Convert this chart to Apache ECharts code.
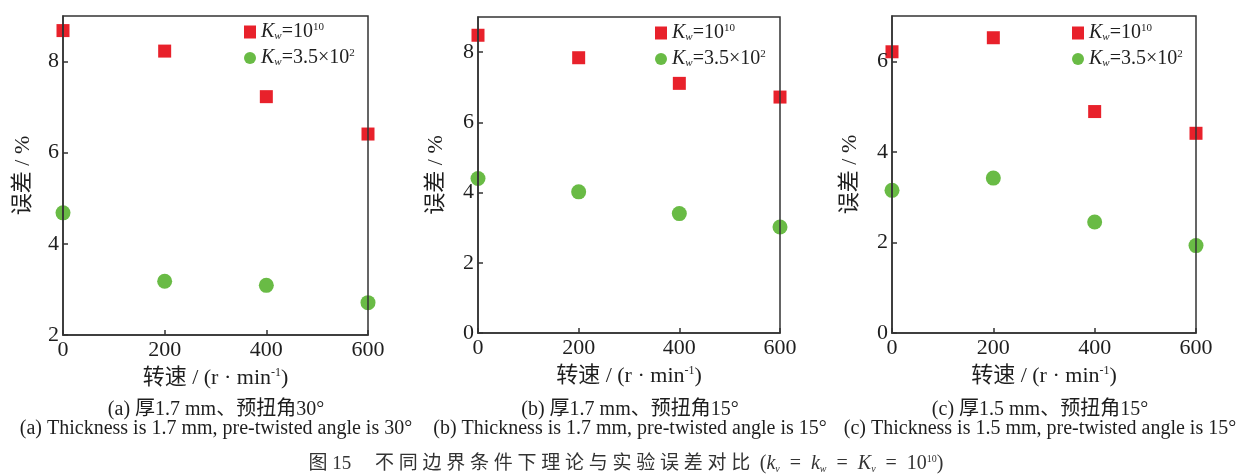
<!DOCTYPE html>
<html>
<head>
<meta charset="utf-8">
<script src="https://cdn.jsdelivr.net/npm/echarts@6/dist/echarts.min.js"></script>
<style>
html,body{margin:0;padding:0;background:#fff;}
#chart{width:1240px;height:475px;}
</style>
</head>
<body>
<div id="chart"></div>
<script>
// ---- data ----
const speeds = [0, 200, 400, 600];
const xTicks = [0, 200, 400, 600];
const seriesNames = ['K_w=10^10', 'K_w=3.5×10^2'];
const errA_high = [8.68, 8.23, 7.23, 6.41];
const errA_low  = [4.68, 3.18, 3.09, 2.71];
const errB_high = [8.48, 7.84, 7.11, 6.72];
const errB_low  = [4.40, 4.02, 3.40, 3.02];
const errC_high = [6.21, 6.52, 4.89, 4.41];
const errC_low  = [3.15, 3.42, 2.45, 1.93];
const yRangeA = [2, 9];
const yRangeB = [0, 9];
const yRangeC = [0, 7];
const captionsCn = ['(a) 厚1.7 mm、预扭角30°', '(b) 厚1.7 mm、预扭角15°', '(c) 厚1.5 mm、预扭角15°'];
const captionsEn = ['(a) Thickness is 1.7 mm, pre-twisted angle is 30°', '(b) Thickness is 1.7 mm, pre-twisted angle is 15°', '(c) Thickness is 1.5 mm, pre-twisted angle is 15°'];
const xAxisName = '转速 / (r · min';
const yAxisName = '误差 / %';
const figTitleHead = '图 15';
const figTitleBody = '不同边界条件下理论与实验误差对比';

// ---- styling ----
const FONT = '"Liberation Serif", "Noto Sans CJK SC", serif';
const RED = '#e8212b';
const GREEN = '#69bb45';
const AX = '#333333';
const TXT = '#1e1e1e';

const panels = [
  {high: errA_high, low: errA_low, yr: yRangeA, grid: {left: 63, top: 16, width: 305, height: 319}, legend: {left: 244, top: 22}, nameGapY: 29},
  {high: errB_high, low: errB_low, yr: yRangeB, grid: {left: 478, top: 17, width: 302, height: 316}, legend: {left: 655, top: 23}, nameGapY: 31},
  {high: errC_high, low: errC_low, yr: yRangeC, grid: {left: 892, top: 16, width: 304, height: 317}, legend: {left: 1072, top: 23}, nameGapY: 31}
];
const capCenters = [216, 630, 1040];

const legendRich = {
  i: {fontFamily: FONT, fontStyle: 'italic', fontSize: 20, color: TXT, lineHeight: 20},
  n: {fontFamily: FONT, fontSize: 20, color: TXT, lineHeight: 20},
  sub: {fontFamily: FONT, fontStyle: 'italic', fontSize: 11, color: TXT, lineHeight: 9, verticalAlign: 'bottom'},
  sup: {fontFamily: FONT, fontSize: 11, color: TXT, lineHeight: 9, verticalAlign: 'top'}
};
function legendFmt(name) {
  if (name === seriesNames[0]) return '{i|K}{sub|w}{n|=10}{sup|10}';
  return '{i|K}{sub|w}{n|=3.5×10}{sup|2}';
}

const option = {
  backgroundColor: '#fff',
  animation: false,
  textStyle: {fontFamily: FONT},
  grid: [], xAxis: [], yAxis: [], series: [], legend: [], title: []
};

panels.forEach((p, k) => {
  option.grid.push(Object.assign({show: true, borderColor: AX, borderWidth: 1.5, z: 10, backgroundColor: 'transparent'}, p.grid));
  option.xAxis.push({
    type: 'value', gridIndex: k, min: 0, max: 600, interval: 200, z: 10,
    axisLine: {show: true, lineStyle: {color: AX, width: 1.5}},
    axisTick: {show: true, inside: true, length: 5, lineStyle: {color: AX, width: 1.5}},
    splitLine: {show: false},
    axisLabel: {color: TXT, fontFamily: FONT, fontSize: 22, margin: 4},
    name: '{t|' + xAxisName + '}{s|-1}{t|)}', nameLocation: 'middle', nameGap: 32,
    nameTextStyle: {rich: {
      t: {fontFamily: FONT, fontSize: 22, color: TXT, lineHeight: 22},
      s: {fontFamily: FONT, fontSize: 12, color: TXT, lineHeight: 11, verticalAlign: 'top'}
    }}
  });
  option.yAxis.push({
    type: 'value', gridIndex: k, min: p.yr[0], max: p.yr[1], interval: 2, z: 10,
    axisLine: {show: true, lineStyle: {color: AX, width: 1.5}},
    axisTick: {show: true, inside: true, length: 5, lineStyle: {color: AX, width: 1.5}},
    splitLine: {show: false},
    axisLabel: {color: TXT, fontFamily: FONT, fontSize: 22, margin: 4, showMaxLabel: false},
    name: yAxisName, nameLocation: 'middle', nameRotate: 90, nameGap: p.nameGapY,
    nameTextStyle: {fontFamily: FONT, fontSize: 22, color: TXT}
  });
  option.series.push({
    name: seriesNames[0], type: 'scatter', xAxisIndex: k, yAxisIndex: k,
    symbol: 'rect', symbolSize: 13, itemStyle: {color: RED, opacity: 1},
    data: speeds.map((s, j) => [s, p.high[j]])
  });
  option.series.push({
    name: seriesNames[1], type: 'scatter', xAxisIndex: k, yAxisIndex: k,
    symbol: 'circle', symbolSize: 15, itemStyle: {color: GREEN, opacity: 1},
    data: speeds.map((s, j) => [s, p.low[j]])
  });
  option.legend.push({
    orient: 'vertical', left: p.legend.left, top: p.legend.top,
    itemWidth: 12, itemHeight: 13, itemGap: 6, padding: 0,
    selectedMode: false,
    data: [{name: seriesNames[0], icon: 'rect', itemStyle: {opacity: 1}}, {name: seriesNames[1], icon: 'circle', itemStyle: {opacity: 1}}],
    formatter: legendFmt,
    textStyle: {rich: legendRich}
  });
  option.title.push({
    text: captionsCn[k], left: capCenters[k], top: 400, textAlign: 'center', padding: 0,
    textStyle: {fontFamily: FONT, fontSize: 20, fontWeight: 'normal', color: TXT, lineHeight: 20}
  });
  option.title.push({
    text: captionsEn[k], left: capCenters[k], top: 419, textAlign: 'center', padding: 0,
    textStyle: {fontFamily: FONT, fontSize: 20, fontWeight: 'normal', color: TXT, lineHeight: 20}
  });
});

const spacedBody = figTitleBody.split('').join(' ');
const EQ = '\u2002=\u2002';
option.title.push({
  text: '{c|' + figTitleHead + '\u3000 ' + spacedBody + '\u2002}{p|(}{i|k}{sb|v}{p|' + EQ + '}{i|k}{sb|w}{p|' + EQ + '}{i|K}{sb|v}{p|' + EQ + '10}{sp|10}{p|)}',
  left: 626, top: 454, textAlign: 'center', padding: 0,
  textStyle: {fontWeight: 'normal', rich: {
    c: {fontFamily: FONT, fontSize: 19, fontWeight: 'normal', color: '#333', lineHeight: 20},
    p: {fontFamily: FONT, fontSize: 20, fontWeight: 'normal', color: '#333', lineHeight: 20},
    i: {fontFamily: FONT, fontStyle: 'italic', fontSize: 20, fontWeight: 'normal', color: '#333', lineHeight: 20},
    sb: {fontFamily: FONT, fontStyle: 'italic', fontSize: 10, fontWeight: 'normal', color: '#333', lineHeight: 8, verticalAlign: 'bottom'},
    sp: {fontFamily: FONT, fontSize: 10, fontWeight: 'normal', color: '#333', lineHeight: 8, verticalAlign: 'top'}
  }}
});

const chart = echarts.init(document.getElementById('chart'), null, {renderer: 'canvas'});
chart.setOption(option);
</script>
</body>
</html>
